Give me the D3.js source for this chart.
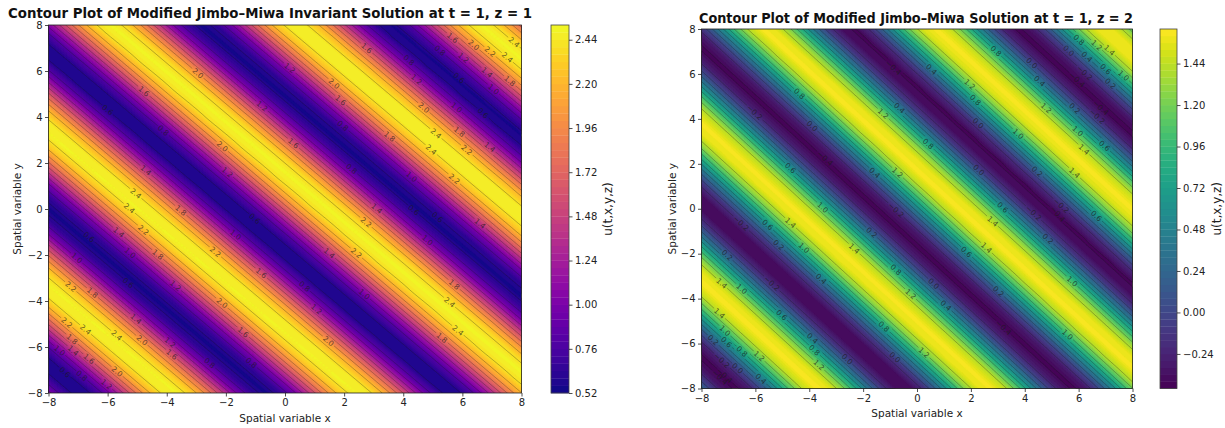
<!DOCTYPE html>
<html>
<head>
<meta charset="utf-8">
<script src="https://cdn.jsdelivr.net/npm/d3@7"></script>
<style>
  body { margin: 0; background: #fff; }
  text { font-family: "DejaVu Sans", sans-serif; }
</style>
</head>
<body>
<svg id="chart" width="1225" height="428"></svg>
<script>
// both fields are straight stripes: u only depends on s = x + tilt*y.
// profiles below are u every 0.5 along s (-16 .. 16)
var stripeS = d3.range(-16, 16.001, 0.5);

var uLeft = [1.67, 1.19, 0.78, 0.56, 0.58, 0.82, 1.24, 1.72, 2.16, 2.44, 2.49, 2.31, 1.93,
  1.46, 0.99, 0.66, 0.54, 0.66, 0.99, 1.45, 1.92, 2.30, 2.49, 2.44, 2.16, 1.73, 1.25, 0.83,
  0.58, 0.56, 0.78, 1.18, 1.66, 2.11, 2.41, 2.50, 2.35, 1.99, 1.52, 1.05, 0.70, 0.54, 0.63,
  0.93, 1.38, 1.86, 2.26, 2.48, 2.46, 2.21, 1.79, 1.31, 0.88, 0.60, 0.55, 0.74, 1.12, 1.59,
  2.05, 2.38, 2.50, 2.38, 2.05, 1.59, 1.11];

var uRight = [0.98, 0.48, 0.00, -0.33, -0.43, -0.28, 0.09, 0.58, 1.07, 1.45, 1.63, 1.55, 1.23,
  0.77, 0.26, -0.16, -0.40, -0.39, -0.14, 0.29, 0.80, 1.26, 1.56, 1.62, 1.44, 1.05, 0.55, 0.06,
  -0.29, -0.43, -0.31, 0.03, 0.51, 1.01, 1.41, 1.62, 1.57, 1.29, 0.84, 0.33, -0.12, -0.38, -0.41,
  -0.19, 0.22, 0.73, 1.20, 1.53, 1.63, 1.47, 1.11, 0.61, 0.12, -0.26, -0.43, -0.34, -0.03, 0.44,
  0.95, 1.37, 1.60, 1.59, 1.34, 0.90, 0.39];

var tiltLeft = 0.92;
var tiltRight = 0.91;

var axisTicks = [-8, -6, -4, -2, 0, 2, 4, 6, 8];

// filled levels (step 0.04) and line levels (step 0.2)
var fillLevelsLeft = d3.range(0, 51).map(function (i) { return +(0.52 + i * 0.04).toFixed(2); });
var fillLevelsRight = d3.range(0, 53).map(function (i) { return +(-0.44 + i * 0.04).toFixed(2); });
var lineLevelsLeft = [0.6, 0.8, 1.0, 1.2, 1.4, 1.6, 1.8, 2.0, 2.2, 2.4];
var lineLevelsRight = [-0.4, -0.2, 0.0, 0.2, 0.4, 0.6, 0.8, 1.0, 1.2, 1.4];
var cbarTicksLeft = [0.52, 0.76, 1.00, 1.24, 1.48, 1.72, 1.96, 2.20, 2.44];
var cbarTicksRight = [-0.24, 0.00, 0.24, 0.48, 0.72, 0.96, 1.20, 1.44];

var titleLeft = 'Contour Plot of Modified Jimbo–Miwa Invariant Solution at t = 1, z = 1';
var titleRight = 'Contour Plot of Modified Jimbo–Miwa Solution at t = 1, z = 2';

var svg = d3.select('#chart');
var defs = svg.append('defs');

function interiorRuns(ring, n) {
  var onEdge = function (q) { return q[0] <= 0 || q[0] >= n || q[1] <= 0 || q[1] >= n; };
  var start = ring.findIndex(onEdge);
  if (start < 0) return [ring];
  var out = [], cur = [];
  for (var k = 0; k < ring.length; k++) {
    var q = ring[(start + k) % ring.length];
    if (onEdge(q)) { if (cur.length > 1) out.push(cur); cur = []; }
    else cur.push(q);
  }
  if (cur.length > 1) out.push(cur);
  return out;
}

function drawPanel(p) {
  var x = d3.scaleLinear().domain([-8, 8]).range([p.left, p.right]);
  var y = d3.scaleLinear().domain([-8, 8]).range([p.bottom, p.top]);
  var prof = d3.scaleLinear().domain(stripeS).range(p.profile);

  var n = 161, step = 16 / (n - 1);
  var values = new Array(n * n);
  for (var j = 0; j < n; j++) {
    for (var i = 0; i < n; i++) {
      values[j * n + i] = prof((-8 + i * step) + p.tilt * (8 - j * step));
    }
  }
  var px = function (c) { return x(-8 + (c - 0.5) * step); };
  var py = function (c) { return y(8 - (c - 0.5) * step); };
  var path = d3.geoPath(d3.geoTransform({
    point: function (a, b) { this.stream.point(px(a), py(b)); }
  }));

  defs.append('clipPath').attr('id', 'clip' + p.id)
    .append('rect')
    .attr('x', p.left).attr('y', p.top)
    .attr('width', p.right - p.left).attr('height', p.bottom - p.top);

  var nb = p.fill.length - 1;
  var bandColor = function (i) { return p.cmap((i + 0.5) / nb); };

  // filled contours
  var fills = d3.contours().size([n, n]).thresholds(p.fill.slice(0, nb))(values);
  svg.append('g').attr('clip-path', 'url(#clip' + p.id + ')')
    .selectAll('path').data(fills).join('path')
    .attr('d', path)
    .attr('fill', function (d, i) { return bandColor(i); })
    .attr('stroke', function (d, i) { return bandColor(i); })
    .attr('stroke-width', 0.3);

  // contour lines with inline labels
  var lines = d3.contours().size([n, n]).thresholds(p.lines)(values);
  var mask = defs.append('mask').attr('id', 'gaps' + p.id)
    .attr('maskUnits', 'userSpaceOnUse')
    .attr('x', 0).attr('y', 0).attr('width', 1225).attr('height', 428);
  mask.append('rect').attr('width', 1225).attr('height', 428).attr('fill', '#fff');

  var clipG = svg.append('g').attr('clip-path', 'url(#clip' + p.id + ')');
  clipG.append('g').attr('mask', 'url(#gaps' + p.id + ')')
    .selectAll('path').data(lines).join('path')
    .attr('d', path)
    .attr('fill', 'none')
    .attr('stroke', '#1a1a1a')
    .attr('stroke-opacity', 0.5)
    .attr('stroke-width', 0.6);

  var labelG = clipG.append('g');
  var fracs = [0.5, 0.27, 0.73, 0.4, 0.62, 0.18, 0.85, 0.33];
  var k = 0;
  lines.forEach(function (geom, li) {
    var txt = d3.format('.1f')(p.lines[li]);
    geom.coordinates.forEach(function (poly) {
      poly.forEach(function (ring) {
        interiorRuns(ring, n).forEach(function (run) {
          var pts = run.map(function (q) { return [px(q[0]), py(q[1])]; });
          var acc = [0];
          for (var m = 1; m < pts.length; m++) {
            acc.push(acc[m - 1] + Math.hypot(pts[m][0] - pts[m - 1][0], pts[m][1] - pts[m - 1][1]));
          }
          var L = acc[acc.length - 1];
          if (L < 30) return;
          var target = L * fracs[k % fracs.length];
          k++;
          var m2 = d3.bisectLeft(acc, target);
          m2 = Math.max(1, Math.min(pts.length - 1, m2));
          var a = pts[m2 - 1], b = pts[m2];
          var t = (target - acc[m2 - 1]) / ((acc[m2] - acc[m2 - 1]) || 1);
          var cx = a[0] + (b[0] - a[0]) * t, cy = a[1] + (b[1] - a[1]) * t;
          if (cx < p.left + 6 || cx > p.right - 6 || cy < p.top + 5 || cy > p.bottom - 5) return;
          var ang = Math.atan2(b[1] - a[1], b[0] - a[0]) * 180 / Math.PI;
          if (ang > 90) ang -= 180;
          if (ang < -90) ang += 180;
          var tr = 'translate(' + cx + ',' + cy + ') rotate(' + ang + ')';
          var tx = labelG.append('text')
            .attr('transform', tr)
            .attr('text-anchor', 'middle')
            .attr('dy', '0.35em')
            .attr('font-size', '7.5px')
            .attr('fill', '#1a1a1a')
            .attr('fill-opacity', 0.7)
            .text(txt);
          var w = tx.node().getComputedTextLength() + 3;
          mask.append('rect')
            .attr('transform', tr)
            .attr('x', -w / 2).attr('y', -4).attr('width', w).attr('height', 8)
            .attr('fill', '#000');
        });
      });
    });
  });

  // frame and axes
  svg.append('rect')
    .attr('x', p.left).attr('y', p.top)
    .attr('width', p.right - p.left).attr('height', p.bottom - p.top)
    .attr('fill', 'none').attr('stroke', '#222').attr('stroke-width', 0.8);

  var fmt = d3.format('d');
  var gx = svg.append('g').attr('transform', 'translate(0,' + p.bottom + ')')
    .call(d3.axisBottom(x).tickValues(axisTicks).tickFormat(fmt).tickSize(3.5).tickSizeOuter(0).tickPadding(2.5));
  var gy = svg.append('g').attr('transform', 'translate(' + p.left + ',0)')
    .call(d3.axisLeft(y).tickValues(axisTicks).tickFormat(fmt).tickSize(3.5).tickSizeOuter(0).tickPadding(2.5));
  [gx, gy].forEach(function (g) {
    g.select('.domain').remove();
    g.selectAll('line').attr('stroke', '#222').attr('stroke-width', 0.8);
    g.selectAll('text').attr('fill', '#222').style('font-size', '10px')
      .style('font-family', '"DejaVu Sans", sans-serif');
  });

  svg.append('text')
    .attr('x', (p.left + p.right) / 2).attr('y', p.xlabelY)
    .attr('text-anchor', 'middle').attr('font-size', '10.5px').attr('fill', '#222')
    .text('Spatial variable x');
  svg.append('text')
    .attr('transform', 'translate(' + p.ylabelX + ',' + (p.top + p.bottom) / 2 + ') rotate(-90)')
    .attr('text-anchor', 'middle').attr('font-size', '10.5px').attr('fill', '#222')
    .text('Spatial variable y');

  // title, stretched to the width it has in the picture
  svg.append('text')
    .attr('x', p.titleX).attr('y', p.titleY)
    .attr('font-size', '14px').attr('font-weight', 'bold').attr('fill', '#111')
    .attr('textLength', p.titleW).attr('lengthAdjust', 'spacingAndGlyphs')
    .text(p.title);

  // colorbar
  var cy = d3.scaleLinear().domain([p.fill[0], p.fill[nb]]).range([p.cbBottom, p.cbTop]);
  svg.append('g').selectAll('rect').data(d3.range(nb)).join('rect')
    .attr('x', p.cbLeft).attr('width', p.cbW)
    .attr('y', function (i) { return cy(p.fill[i + 1]); })
    .attr('height', function (i) { return cy(p.fill[i]) - cy(p.fill[i + 1]) + 0.3; })
    .attr('fill', function (i) { return bandColor(i); });
  svg.append('rect')
    .attr('x', p.cbLeft).attr('y', p.cbTop).attr('width', p.cbW).attr('height', p.cbBottom - p.cbTop)
    .attr('fill', 'none').attr('stroke', '#444').attr('stroke-width', 0.8);
  var gc = svg.append('g').attr('transform', 'translate(' + (p.cbLeft + p.cbW) + ',0)')
    .call(d3.axisRight(cy).tickValues(p.cbTicks).tickFormat(d3.format('.2f')).tickSize(3.5).tickSizeOuter(0).tickPadding(2.5));
  gc.select('.domain').remove();
  gc.selectAll('line').attr('stroke', '#222').attr('stroke-width', 0.8);
  gc.selectAll('text').attr('fill', '#222').style('font-size', '10px')
    .style('font-family', '"DejaVu Sans", sans-serif');
  svg.append('text')
    .attr('transform', 'translate(' + p.cbLabelX + ',' + (p.cbTop + p.cbBottom) / 2 + ') rotate(-90)')
    .attr('text-anchor', 'middle').attr('font-size', '12px').attr('fill', '#222')
    .text('u(t,x,y,z)');
}

drawPanel({
  id: 'L', left: 48.5, right: 521.5, top: 25, bottom: 393,
  profile: uLeft, tilt: tiltLeft, cmap: d3.interpolatePlasma,
  fill: fillLevelsLeft, lines: lineLevelsLeft, cbTicks: cbarTicksLeft,
  title: titleLeft, titleX: 8, titleY: 17.5, titleW: 524,
  xlabelY: 422, ylabelX: 21,
  cbLeft: 551, cbW: 18, cbTop: 25, cbBottom: 393, cbLabelX: 612
});

drawPanel({
  id: 'R', left: 701.5, right: 1132.5, top: 29, bottom: 388.5,
  profile: uRight, tilt: tiltRight, cmap: d3.interpolateViridis,
  fill: fillLevelsRight, lines: lineLevelsRight, cbTicks: cbarTicksRight,
  title: titleRight, titleX: 699, titleY: 23, titleW: 434,
  xlabelY: 417, ylabelX: 676,
  cbLeft: 1160, cbW: 17, cbTop: 29, cbBottom: 388.5, cbLabelX: 1221
});
</script>
</body>
</html>
